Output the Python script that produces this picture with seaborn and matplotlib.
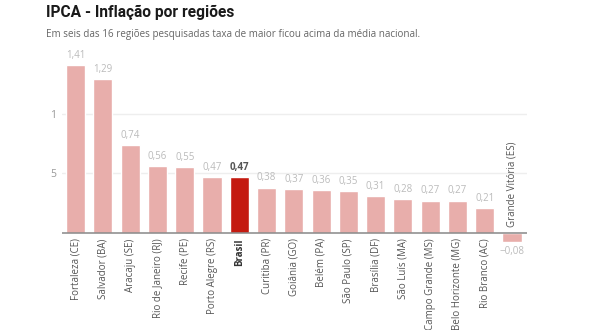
import matplotlib
matplotlib.use("Agg")
import matplotlib.pyplot as plt
import seaborn as sns
import pandas as pd
from matplotlib import font_manager

regions = ["Fortaleza (CE)", "Salvador (BA)", "Aracaju (SE)", "Rio de Janeiro (RJ)",
           "Recife (PE)", "Porto Alegre (RS)", "Brasil", "Curitiba (PR)", "Goiânia (GO)",
           "Belém (PA)", "São Paulo (SP)", "Brasília (DF)", "São Luís (MA)",
           "Campo Grande (MS)", "Belo Horizonte (MG)", "Rio Branco (AC)", "Grande Vitória (ES)"]
values = [1.41, 1.29, 0.74, 0.56, 0.55, 0.47, 0.47, 0.38, 0.37, 0.36, 0.35, 0.31,
          0.28, 0.27, 0.27, 0.21, -0.08]
highlight = "Brasil"
ytick_vals = [0.5, 1.0]
ytick_labels = ["5", "1"]

title = "IPCA - Inflação por regiões"
subtitle = "Em seis das 16 regiões pesquisadas taxa de maior ficou acima da média nacional."

sns.set_theme(style="white")
plt.rcParams["font.family"] = ["Open Sans", "DejaVu Sans"]

names = {f.name for f in font_manager.fontManager.ttflist}
title_family = ["Liberation Sans Narrow", "Open Sans"] if "Liberation Sans Narrow" in names else ["Roboto", "Open Sans"]

df = pd.DataFrame({"regiao": regions, "valor": values})
df["grupo"] = ["br" if r == highlight else "outro" for r in regions]

fig = plt.figure(figsize=(5.9, 3.3), dpi=100)
ax = fig.add_axes([62 / 590, (330 - 250.5) / 330, 465 / 590, 200.5 / 330])

sns.barplot(data=df, x="regiao", y="valor", hue="grupo",
            palette={"br": "#c41a10", "outro": "#e8aeab"},
            dodge=False, legend=False, width=0.7, ax=ax, saturation=1)

ax.set_xlim(-0.5, 16.55)
ax.set_ylim(-0.15, 1.538)
for s in ax.spines.values():
    s.set_visible(False)
ax.set_xticks([])
ax.set_xlabel("")
ax.set_ylabel("")
ax.set_yticks(ytick_vals)
ax.set_yticklabels(ytick_labels, color="#999999", fontsize=7.5)
ax.tick_params(axis="y", length=0, pad=4)
for v in ytick_vals:
    ax.axhline(v, color="#eeeeee", lw=1, zorder=0)
ax.axhline(0, color="#888888", lw=1.1, zorder=3)

for i, (r, v) in enumerate(zip(regions, values)):
    lab = f"{v:.2f}".replace(".", ",").replace("-", "\u2212")
    is_br = r == highlight
    if v >= 0:
        ax.annotate(lab, (i, v), xytext=(0, 3), textcoords="offset points",
                    ha="center", va="bottom", fontsize=7,
                    color="#555555" if is_br else "#bbbbbb",
                    fontweight="bold" if is_br else "normal")
        ax.annotate(r, (i, 0), xytext=(0, -4), textcoords="offset points",
                    ha="center", va="top", rotation=90, fontsize=7,
                    color="#333333" if is_br else "#555555",
                    fontweight="bold" if is_br else "normal")
    else:
        ax.annotate(lab, (i, v), xytext=(0, -3), textcoords="offset points",
                    ha="center", va="top", fontsize=7, color="#bbbbbb")
        ax.annotate(r, (i, 0), xytext=(0, 4), textcoords="offset points",
                    ha="center", va="bottom", rotation=90, fontsize=7,
                    color="#555555")

fig.text(46 / 590, 1 - 12 / 330, title, fontsize=11.2, fontweight="bold",
         family=title_family, color="#1a1a1a", va="center", ha="left")
fig.text(46 / 590, 1 - 35 / 330, subtitle, fontsize=7.1, color="#666666",
         va="center", ha="left")

fig.savefig("out.png", dpi=100, facecolor="white")
